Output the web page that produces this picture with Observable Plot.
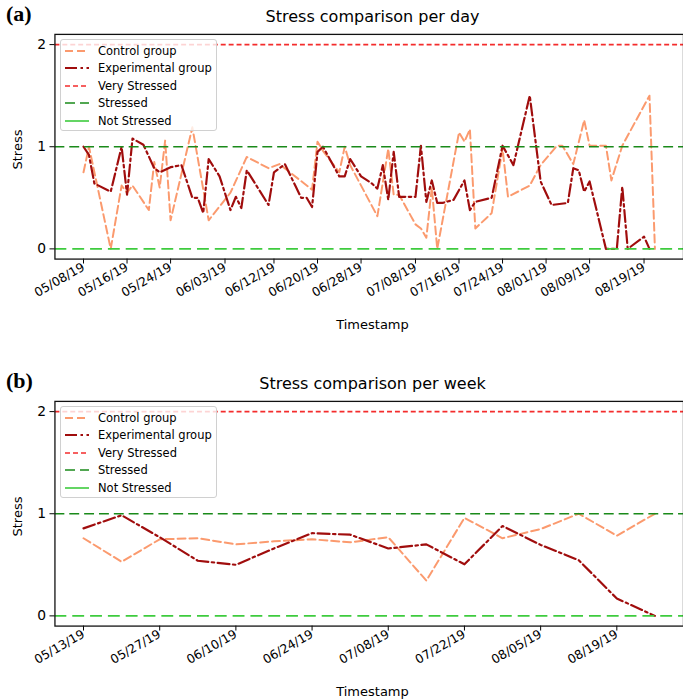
<!DOCTYPE html>
<html>
<head>
<meta charset="utf-8">
<script src="https://cdn.jsdelivr.net/npm/d3@7"></script>
<script src="https://cdn.jsdelivr.net/npm/@observablehq/plot@0.6"></script>
<style>
  html, body { margin: 0; padding: 0; background: #fff; overflow: hidden; }
  #page { position: relative; width: 683px; height: 700px; overflow: hidden; background: #fff; font-family: "DejaVu Sans", sans-serif; }
  .panel { position: absolute; font-family: "Liberation Serif", serif; font-weight: bold; font-size: 22px; color: #000; }
  .title { position: absolute; width: 635px; left: 55px; text-align: center; font-size: 16px; color: #000; }
  .xlab { position: absolute; width: 635px; left: 55px; text-align: center; font-size: 13px; color: #000; }
  .ylab { position: absolute; font-size: 13px; color: #000; transform: rotate(-90deg); transform-origin: center center; white-space: nowrap; }
  .legend { position: absolute; background: rgba(255,255,255,0.8); border: 1px solid #d0d0d0; border-radius: 3px; box-sizing: border-box; padding-top: 2px; }
  .legend .row { height: 17.5px; display: flex; align-items: center; font-size: 11.5px; color: #000; white-space: nowrap; }
  .legend svg { margin-left: 4px; margin-right: 9px; flex: none; }
</style>
</head>
<body>
<div id="page"></div>
<script>
// ---------------- data ----------------
const seriesNames = ["Control group", "Experimental group"];
const levelNames = ["Very Stressed", "Stressed", "Not Stressed"];
const levels = [2, 1, 0];
const yTicks = [0, 1, 2];

// (a) daily
const dailyControlDates = [
  "2019-05-08","2019-05-09","2019-05-13","2019-05-15","2019-05-16","2019-05-17","2019-05-20","2019-05-21",
  "2019-05-22","2019-05-23","2019-05-24","2019-05-28","2019-05-31","2019-06-04","2019-06-07","2019-06-11",
  "2019-06-13","2019-06-19","2019-06-20","2019-06-21","2019-06-23","2019-06-24","2019-06-25","2019-06-26",
  "2019-07-01","2019-07-03","2019-07-04","2019-07-05","2019-07-08","2019-07-09","2019-07-10","2019-07-11",
  "2019-07-12","2019-07-16","2019-07-17","2019-07-18","2019-07-19","2019-07-22","2019-07-24","2019-07-25",
  "2019-07-29","2019-07-31","2019-08-03","2019-08-04","2019-08-06","2019-08-08","2019-08-09","2019-08-12",
  "2019-08-13","2019-08-15","2019-08-20","2019-08-21"
];
const dailyControlStress = [
  0.75, 1.00, 0.00, 0.62, 0.55, 0.62, 0.38, 0.85,
  0.60, 1.06, 0.28, 1.19, 0.28, 0.55, 0.90, 0.79,
  0.83, 0.58, 1.05, 0.96, 0.82, 0.75, 1.00, 0.82,
  0.32, 0.98, 0.53, 0.53, 0.24, 0.20, 0.11, 0.60,
  0.00, 1.14, 1.05, 1.17, 0.20, 0.35, 0.98, 0.51,
  0.62, 0.82, 1.01, 1.01, 0.83, 1.26, 1.01, 1.01,
  0.67, 1.01, 1.50, 0.00
];
const dailyExpDates = [
  "2019-05-08","2019-05-09","2019-05-10","2019-05-13","2019-05-15","2019-05-16","2019-05-17","2019-05-19",
  "2019-05-21","2019-05-22","2019-05-24","2019-05-26","2019-05-28","2019-05-29","2019-05-30","2019-05-31",
  "2019-06-02","2019-06-04","2019-06-05","2019-06-06","2019-06-07","2019-06-11","2019-06-12","2019-06-14",
  "2019-06-16","2019-06-17","2019-06-18","2019-06-19","2019-06-20","2019-06-21","2019-06-24","2019-06-25",
  "2019-06-26","2019-06-28","2019-06-30","2019-07-01","2019-07-02","2019-07-03","2019-07-04","2019-07-05",
  "2019-07-08","2019-07-09","2019-07-10","2019-07-11","2019-07-12","2019-07-13","2019-07-15","2019-07-17",
  "2019-07-18","2019-07-19","2019-07-22","2019-07-24","2019-07-26","2019-07-29","2019-07-31","2019-08-02",
  "2019-08-05","2019-08-06","2019-08-07","2019-08-08","2019-08-09","2019-08-12","2019-08-14","2019-08-15",
  "2019-08-16","2019-08-19","2019-08-20"
];
const dailyExpStress = [
  1.00, 0.92, 0.64, 0.56, 1.00, 0.53, 1.08, 1.02,
  0.79, 0.75, 0.80, 0.82, 0.50, 0.50, 0.35, 0.88,
  0.71, 0.38, 0.51, 0.40, 0.77, 0.43, 0.75, 0.83,
  0.61, 0.50, 0.50, 0.41, 0.95, 1.00, 0.71, 0.71,
  0.88, 0.71, 0.64, 0.59, 0.82, 0.48, 0.95, 0.51,
  0.51, 1.01, 0.46, 0.67, 0.45, 0.45, 0.48, 0.67,
  0.38, 0.46, 0.50, 1.01, 0.82, 1.50, 0.66, 0.43,
  0.45, 0.79, 0.77, 0.56, 0.66, 0.00, 0.00, 0.61,
  0.00, 0.12, 0.00
];
const dailyTicks = ["2019-05-08","2019-05-16","2019-05-24","2019-06-03","2019-06-12","2019-06-20","2019-06-28",
  "2019-07-08","2019-07-16","2019-07-24","2019-08-01","2019-08-09","2019-08-19"];

// (b) weekly
const weeklyDates = ["2019-05-13","2019-05-20","2019-05-27","2019-06-03","2019-06-10","2019-06-17","2019-06-24","2019-07-01",
  "2019-07-08","2019-07-15","2019-07-22","2019-07-29","2019-08-05","2019-08-12","2019-08-19","2019-08-26"];
const weeklyControlStress = [0.76, 0.53, 0.75, 0.76, 0.70, 0.73, 0.75, 0.72, 0.77, 0.345, 0.96, 0.76, 0.85, 1.00, 0.785, 1.00];
const weeklyExpStress = [0.857, 0.985, 0.77, 0.54, 0.50, 0.66, 0.81, 0.795, 0.66, 0.70, 0.505, 0.88, 0.695, 0.545, 0.17, 0.00];
const weeklyTicks = ["2019-05-13","2019-05-27","2019-06-10","2019-06-24","2019-07-08","2019-07-22","2019-08-05","2019-08-19"];

// ---------------- styles ----------------
const seriesColors = ["#FB9A6E", "#A00D0D"];
const seriesDash = ["8,4", "12,3.5,2.5,3.5"];
const levelColors = ["#F42C2C", "#1A8A1A", "#3ECB3E"];
const levelDash = ["5,3", "10,5", "12,6"];
const levelLegendDash = ["5,3", "10,5", null];

const parse = d3.utcParse("%Y-%m-%d");
const fmt = d3.utcFormat("%m/%d/%y");
const page = document.getElementById("page");

function makeChart(cfg) {
  const control = cfg.cDates.map((d, i) => ({date: parse(d), value: cfg.cVals[i]}));
  const exp = cfg.eDates.map((d, i) => ({date: parse(d), value: cfg.eVals[i]}));
  const all = control.concat(exp).map(d => +d.date);
  const lo = d3.min(all), hi = d3.max(all), pad = (hi - lo) * 0.05;
  const plot = Plot.plot({
    width: 690, height: 317,
    marginLeft: 55, marginRight: 0, marginTop: 10, marginBottom: 80,
    style: {fontFamily: "DejaVu Sans", background: "transparent", overflow: "visible", color: "#000"},
    x: {type: "utc", domain: [new Date(lo - pad), new Date(hi + pad)]},
    y: {domain: [-0.1, 2.1]},
    marks: [
      Plot.lineY(control, {x: "date", y: "value", stroke: seriesColors[0], strokeWidth: 2, strokeDasharray: seriesDash[0]}),
      Plot.lineY(exp, {x: "date", y: "value", stroke: seriesColors[1], strokeWidth: 2.2, strokeDasharray: seriesDash[1]}),
      ...levels.map((lv, i) => Plot.ruleY([lv], {stroke: levelColors[i], strokeWidth: 1.6, strokeDasharray: levelDash[i]})),
      Plot.axisX({ticks: cfg.ticks.map(parse), tickFormat: fmt, tickRotate: -30, tickSize: 5, tickPadding: 2, fontSize: 12.5, label: null}),
      Plot.axisY({ticks: yTicks, tickFormat: d => String(d), tickSize: 5, tickPadding: 4, fontSize: 14, label: null}),
      Plot.frame({stroke: "#111", strokeWidth: 1.3})
    ]
  });
  plot.style.position = "absolute";
  plot.style.left = "0px";
  plot.style.top = cfg.top + "px";
  page.appendChild(plot);

  const frameTop = cfg.top + 10;
  const p = document.createElement("div");
  p.className = "panel"; p.textContent = cfg.panel;
  p.style.left = "6px"; p.style.top = (frameTop - 33) + "px";
  page.appendChild(p);
  const t = document.createElement("div");
  t.className = "title"; t.textContent = cfg.title;
  t.style.top = (frameTop - 27) + "px";
  page.appendChild(t);
  const xl = document.createElement("div");
  xl.className = "xlab"; xl.textContent = "Timestamp";
  xl.style.top = (frameTop + 283) + "px";
  page.appendChild(xl);
  const yl = document.createElement("div");
  yl.className = "ylab"; yl.textContent = "Stress";
  yl.style.left = "-2px"; yl.style.top = (frameTop + 108) + "px";
  page.appendChild(yl);
  const lg = document.createElement("div");
  lg.className = "legend";
  lg.style.left = "60px"; lg.style.top = (frameTop + 5) + "px";
  lg.style.width = "157px"; lg.style.height = "92px";
  const entries = [
    {name: seriesNames[0], color: seriesColors[0], dash: seriesDash[0], w: 2},
    {name: seriesNames[1], color: seriesColors[1], dash: seriesDash[1], w: 2.2},
    ...levelNames.map((n, i) => ({name: n, color: levelColors[i], dash: levelLegendDash[i], w: 1.6}))
  ];
  for (const e of entries) {
    const row = document.createElement("div");
    row.className = "row";
    row.innerHTML = `<svg width="24" height="10"><line x1="0" y1="5" x2="24" y2="5" stroke="${e.color}" stroke-width="${e.w}" ${e.dash ? `stroke-dasharray="${e.dash}"` : ""}/></svg><span>${e.name}</span>`;
    lg.appendChild(row);
  }
  page.appendChild(lg);
}

makeChart({top: 24, panel: "(a)", title: "Stress comparison per day",
  cDates: dailyControlDates, cVals: dailyControlStress, eDates: dailyExpDates, eVals: dailyExpStress, ticks: dailyTicks});
makeChart({top: 391, panel: "(b)", title: "Stress comparison per week",
  cDates: weeklyDates, cVals: weeklyControlStress, eDates: weeklyDates, eVals: weeklyExpStress, ticks: weeklyTicks});
</script>
</body>
</html>
